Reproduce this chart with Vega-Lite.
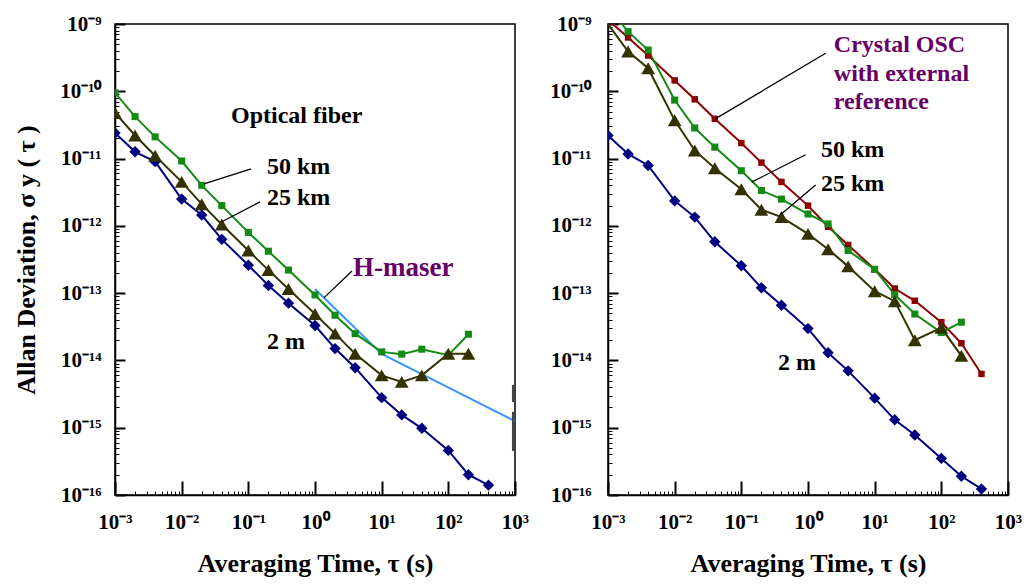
{
  "$schema": "https://vega.github.io/schema/vega-lite/v6.json",
  "background": "white",
  "padding": {"left": 12, "top": 12, "right": 5, "bottom": 5},
  "bounds": "flush",
  "spacing": 93,
  "config": {
    "view": {"stroke": "black", "strokeWidth": 1.5},
    "axis": {
      "grid": false,
      "domainColor": "black",
      "domainWidth": 1.5,
      "tickColor": "black",
      "tickWidth": 2,
      "labelFlush": false,
      "labelOverlap": false,
      "labelFont": "Liberation Serif",
      "labelFontWeight": "bold",
      "labelFontSize": 21,
      "labelColor": "black",
      "titleFont": "Liberation Serif",
      "titleFontWeight": "bold",
      "titleFontSize": 26,
      "titleColor": "black"
    }
  },
  "datasets": {
    "left": [
      {"tau": 0.001, "sigma": 2.4e-11, "series": "2 m"},
      {"tau": 0.002, "sigma": 1.26e-11, "series": "2 m"},
      {"tau": 0.004, "sigma": 9.0e-12, "series": "2 m"},
      {"tau": 0.01, "sigma": 2.5e-12, "series": "2 m"},
      {"tau": 0.02, "sigma": 1.45e-12, "series": "2 m"},
      {"tau": 0.04, "sigma": 6.3e-13, "series": "2 m"},
      {"tau": 0.1, "sigma": 2.6e-13, "series": "2 m"},
      {"tau": 0.2, "sigma": 1.3e-13, "series": "2 m"},
      {"tau": 0.4, "sigma": 7.1e-14, "series": "2 m"},
      {"tau": 1, "sigma": 3.3e-14, "series": "2 m"},
      {"tau": 2, "sigma": 1.5e-14, "series": "2 m"},
      {"tau": 4, "sigma": 7.8e-15, "series": "2 m"},
      {"tau": 10, "sigma": 2.8e-15, "series": "2 m"},
      {"tau": 20, "sigma": 1.55e-15, "series": "2 m"},
      {"tau": 40, "sigma": 9.8e-16, "series": "2 m"},
      {"tau": 100, "sigma": 4.6e-16, "series": "2 m"},
      {"tau": 200, "sigma": 2.0e-16, "series": "2 m"},
      {"tau": 400, "sigma": 1.4e-16, "series": "2 m"},
      {"tau": 0.001, "sigma": 9.5e-11, "series": "50 km"},
      {"tau": 0.002, "sigma": 4.2e-11, "series": "50 km"},
      {"tau": 0.004, "sigma": 2.1e-11, "series": "50 km"},
      {"tau": 0.01, "sigma": 9.2e-12, "series": "50 km"},
      {"tau": 0.02, "sigma": 4.0e-12, "series": "50 km"},
      {"tau": 0.04, "sigma": 2.0e-12, "series": "50 km"},
      {"tau": 0.1, "sigma": 8.0e-13, "series": "50 km"},
      {"tau": 0.2, "sigma": 4.2e-13, "series": "50 km"},
      {"tau": 0.4, "sigma": 2.2e-13, "series": "50 km"},
      {"tau": 1, "sigma": 9.4e-14, "series": "50 km"},
      {"tau": 2, "sigma": 4.7e-14, "series": "50 km"},
      {"tau": 4, "sigma": 2.5e-14, "series": "50 km"},
      {"tau": 10, "sigma": 1.34e-14, "series": "50 km"},
      {"tau": 20, "sigma": 1.24e-14, "series": "50 km"},
      {"tau": 40, "sigma": 1.47e-14, "series": "50 km"},
      {"tau": 100, "sigma": 1.2e-14, "series": "50 km"},
      {"tau": 200, "sigma": 2.45e-14, "series": "50 km"},
      {"tau": 0.001, "sigma": 4.8e-11, "series": "25 km"},
      {"tau": 0.002, "sigma": 2.2e-11, "series": "25 km"},
      {"tau": 0.004, "sigma": 1.1e-11, "series": "25 km"},
      {"tau": 0.01, "sigma": 4.5e-12, "series": "25 km"},
      {"tau": 0.02, "sigma": 2.1e-12, "series": "25 km"},
      {"tau": 0.04, "sigma": 1.05e-12, "series": "25 km"},
      {"tau": 0.1, "sigma": 4.3e-13, "series": "25 km"},
      {"tau": 0.2, "sigma": 2.2e-13, "series": "25 km"},
      {"tau": 0.4, "sigma": 1.15e-13, "series": "25 km"},
      {"tau": 1, "sigma": 4.9e-14, "series": "25 km"},
      {"tau": 2, "sigma": 2.5e-14, "series": "25 km"},
      {"tau": 4, "sigma": 1.26e-14, "series": "25 km"},
      {"tau": 10, "sigma": 6.0e-15, "series": "25 km"},
      {"tau": 20, "sigma": 4.8e-15, "series": "25 km"},
      {"tau": 40, "sigma": 6.0e-15, "series": "25 km"},
      {"tau": 100, "sigma": 1.26e-14, "series": "25 km"},
      {"tau": 200, "sigma": 1.26e-14, "series": "25 km"}
    ],
    "maser": [
      {"tau": 1, "sigma": 1.15e-13},
      {"tau": 10, "sigma": 1.25e-14},
      {"tau": 1000, "sigma": 1.25e-15}
    ],
    "edgeBars": [
      {"tau": 940, "sigma": 4.33e-15, "sigma2": 2.4e-15},
      {"tau": 940, "sigma": 1.72e-15, "sigma2": 4.52e-16}
    ],
    "right": [
      {"tau": 0.001, "sigma": 2.2e-11, "series": "2 m"},
      {"tau": 0.002, "sigma": 1.17e-11, "series": "2 m"},
      {"tau": 0.004, "sigma": 7.9e-12, "series": "2 m"},
      {"tau": 0.01, "sigma": 2.35e-12, "series": "2 m"},
      {"tau": 0.02, "sigma": 1.35e-12, "series": "2 m"},
      {"tau": 0.04, "sigma": 5.8e-13, "series": "2 m"},
      {"tau": 0.1, "sigma": 2.55e-13, "series": "2 m"},
      {"tau": 0.2, "sigma": 1.2e-13, "series": "2 m"},
      {"tau": 0.4, "sigma": 6.6e-14, "series": "2 m"},
      {"tau": 1, "sigma": 2.97e-14, "series": "2 m"},
      {"tau": 2, "sigma": 1.3e-14, "series": "2 m"},
      {"tau": 4, "sigma": 7.0e-15, "series": "2 m"},
      {"tau": 10, "sigma": 2.75e-15, "series": "2 m"},
      {"tau": 20, "sigma": 1.31e-15, "series": "2 m"},
      {"tau": 40, "sigma": 7.8e-16, "series": "2 m"},
      {"tau": 100, "sigma": 3.5e-16, "series": "2 m"},
      {"tau": 200, "sigma": 1.9e-16, "series": "2 m"},
      {"tau": 400, "sigma": 1.23e-16, "series": "2 m"},
      {"tau": 0.001, "sigma": 1.15e-9, "series": "Crystal"},
      {"tau": 0.002, "sigma": 6.3e-10, "series": "Crystal"},
      {"tau": 0.004, "sigma": 3.4e-10, "series": "Crystal"},
      {"tau": 0.01, "sigma": 1.45e-10, "series": "Crystal"},
      {"tau": 0.02, "sigma": 7.6e-11, "series": "Crystal"},
      {"tau": 0.04, "sigma": 3.9e-11, "series": "Crystal"},
      {"tau": 0.1, "sigma": 1.7e-11, "series": "Crystal"},
      {"tau": 0.2, "sigma": 8.7e-12, "series": "Crystal"},
      {"tau": 0.4, "sigma": 4.5e-12, "series": "Crystal"},
      {"tau": 1, "sigma": 2.0e-12, "series": "Crystal"},
      {"tau": 2, "sigma": 9.7e-13, "series": "Crystal"},
      {"tau": 4, "sigma": 5.2e-13, "series": "Crystal"},
      {"tau": 10, "sigma": 2.26e-13, "series": "Crystal"},
      {"tau": 20, "sigma": 1.17e-13, "series": "Crystal"},
      {"tau": 40, "sigma": 7.7e-14, "series": "Crystal"},
      {"tau": 100, "sigma": 3.7e-14, "series": "Crystal"},
      {"tau": 200, "sigma": 1.8e-14, "series": "Crystal"},
      {"tau": 400, "sigma": 6.3e-15, "series": "Crystal"},
      {"tau": 0.001, "sigma": 1.8e-9, "series": "50 km"},
      {"tau": 0.002, "sigma": 7.7e-10, "series": "50 km"},
      {"tau": 0.004, "sigma": 4.1e-10, "series": "50 km"},
      {"tau": 0.01, "sigma": 7.4e-11, "series": "50 km"},
      {"tau": 0.02, "sigma": 2.85e-11, "series": "50 km"},
      {"tau": 0.04, "sigma": 1.48e-11, "series": "50 km"},
      {"tau": 0.1, "sigma": 6.6e-12, "series": "50 km"},
      {"tau": 0.2, "sigma": 3.35e-12, "series": "50 km"},
      {"tau": 0.4, "sigma": 2.5e-12, "series": "50 km"},
      {"tau": 1, "sigma": 1.5e-12, "series": "50 km"},
      {"tau": 2, "sigma": 1.07e-12, "series": "50 km"},
      {"tau": 4, "sigma": 4.3e-13, "series": "50 km"},
      {"tau": 10, "sigma": 2.26e-13, "series": "50 km"},
      {"tau": 20, "sigma": 9.5e-14, "series": "50 km"},
      {"tau": 40, "sigma": 4.9e-14, "series": "50 km"},
      {"tau": 100, "sigma": 2.6e-14, "series": "50 km"},
      {"tau": 200, "sigma": 3.7e-14, "series": "50 km"},
      {"tau": 0.001, "sigma": 1.0e-9, "series": "25 km"},
      {"tau": 0.002, "sigma": 3.9e-10, "series": "25 km"},
      {"tau": 0.004, "sigma": 2.2e-10, "series": "25 km"},
      {"tau": 0.01, "sigma": 3.7e-11, "series": "25 km"},
      {"tau": 0.02, "sigma": 1.32e-11, "series": "25 km"},
      {"tau": 0.04, "sigma": 7.2e-12, "series": "25 km"},
      {"tau": 0.1, "sigma": 3.5e-12, "series": "25 km"},
      {"tau": 0.2, "sigma": 1.74e-12, "series": "25 km"},
      {"tau": 0.4, "sigma": 1.35e-12, "series": "25 km"},
      {"tau": 1, "sigma": 7.6e-13, "series": "25 km"},
      {"tau": 2, "sigma": 4.5e-13, "series": "25 km"},
      {"tau": 4, "sigma": 2.5e-13, "series": "25 km"},
      {"tau": 10, "sigma": 1.07e-13, "series": "25 km"},
      {"tau": 20, "sigma": 7.6e-14, "series": "25 km"},
      {"tau": 40, "sigma": 2.0e-14, "series": "25 km"},
      {"tau": 100, "sigma": 3.05e-14, "series": "25 km"},
      {"tau": 200, "sigma": 1.17e-14, "series": "25 km"}
    ],
    "leftLeaders": [
      {"tau": 0.11, "sigma": 7.0e-12, "tau2": 0.0216, "sigma2": 4.2e-12},
      {"tau": 0.15, "sigma": 2.27e-12, "tau2": 0.04, "sigma2": 1.15e-12},
      {"tau": 3.59, "sigma": 2.14e-13, "tau2": 1.36, "sigma2": 8.5e-14}
    ],
    "rightLeaders": [
      {"tau": 1.84, "sigma": 3.67e-10, "tau2": 0.0412, "sigma2": 3.93e-11},
      {"tau": 0.92, "sigma": 1.14e-11, "tau2": 0.1426, "sigma2": 4.46e-12},
      {"tau": 1.30, "sigma": 4.06e-12, "tau2": 0.375, "sigma2": 1.42e-12}
    ],
    "leftText": [
      {"tau": 0.0549, "sigma": 4.3e-11, "label": "Optical fiber", "color": "black", "fs": 24},
      {"tau": 0.1905, "sigma": 7.5e-12, "label": "50 km", "color": "black", "fs": 24},
      {"tau": 0.1905, "sigma": 2.6e-12, "label": "25 km", "color": "black", "fs": 24},
      {"tau": 3.72, "sigma": 2.37e-13, "label": "H-maser", "color": "#660066", "fs": 27},
      {"tau": 0.1905, "sigma": 1.88e-14, "label": "2 m", "color": "black", "fs": 24}
    ],
    "rightText": [
      {"tau": 2.44, "sigma": 4.94e-10, "label": "Crystal OSC", "color": "#660066", "fs": 24},
      {"tau": 2.44, "sigma": 1.82e-10, "label": "with external", "color": "#660066", "fs": 24},
      {"tau": 2.44, "sigma": 6.97e-11, "label": "reference", "color": "#660066", "fs": 24},
      {"tau": 1.56, "sigma": 1.32e-11, "label": "50 km", "color": "black", "fs": 24},
      {"tau": 1.56, "sigma": 4.2e-12, "label": "25 km", "color": "black", "fs": 24},
      {"tau": 0.354, "sigma": 9.2e-15, "label": "2 m", "color": "black", "fs": 24}
    ]
  },
  "hconcat": [
    {
      "width": 400,
      "height": 471,
      "resolve": {"axis": {"x": "independent", "y": "independent"}},
      "layer": [
        {
          "layer": [
            {
              "data": {"name": "maser"},
              "mark": {"type": "line", "color": "#3399ff", "strokeWidth": 2, "clip": true},
              "encoding": {
                "x": {"field": "tau", "type": "quantitative", "scale": {"type": "log", "domain": [0.001, 1000], "nice": false},
                  "axis": {"title": "Averaging Time,  τ (s)", "orient": "bottom", "values": [0.001, 0.01, 0.1, 1, 10, 100, 1000], "tickSize": -14, "labelPadding": 30, "titlePadding": 18,
                    "labelExpr": "'10' + {'-3':'⁻³','-2':'⁻²','-1':'⁻¹','0':'⁰','1':'¹','2':'²','3':'³'}['' + round(log(datum.value)/LN10)]"}},
                "y": {"field": "sigma", "type": "quantitative", "scale": {"type": "log", "domain": [1e-16, 1e-9], "nice": false},
                  "axis": {"title": "Allan Deviation, σ y ( τ )", "orient": "left", "values": [1e-16, 1e-15, 1e-14, 1e-13, 1e-12, 1e-11, 1e-10, 1e-9], "tickSize": -10, "labelPadding": 24, "titlePadding": 20,
                    "labelExpr": "'10' + {'-16':'⁻¹⁶','-15':'⁻¹⁵','-14':'⁻¹⁴','-13':'⁻¹³','-12':'⁻¹²','-11':'⁻¹¹','-10':'⁻¹⁰','-9':'⁻⁹'}['' + round(log(datum.value)/LN10)]"}}
              }
            },
            {
              "data": {"name": "edgeBars"},
              "mark": {"type": "rule", "color": "#444444", "strokeWidth": 2.5},
              "encoding": {
                "x": {"field": "tau", "type": "quantitative"},
                "y": {"field": "sigma", "type": "quantitative"},
                "y2": {"field": "sigma2"}
              }
            },
            {
              "data": {"name": "left"},
              "mark": {"type": "line", "strokeWidth": 2, "clip": true},
              "encoding": {
                "x": {"field": "tau", "type": "quantitative"},
                "y": {"field": "sigma", "type": "quantitative"},
                "color": {"field": "series", "type": "nominal", "scale": {"domain": ["2 m", "50 km", "25 km", "Crystal"], "range": ["#000080", "#138a13", "#333300", "#8b0000"]}, "legend": null}
              }
            },
            {
              "data": {"name": "left"},
              "mark": {"type": "point", "filled": true, "opacity": 1, "clip": true},
              "encoding": {
                "x": {"field": "tau", "type": "quantitative"},
                "y": {"field": "sigma", "type": "quantitative"},
                "color": {"field": "series", "type": "nominal", "legend": null},
                "shape": {"field": "series", "type": "nominal", "scale": {"domain": ["2 m", "50 km", "25 km", "Crystal"], "range": ["diamond", "square", "triangle-up", "square"]}, "legend": null},
                "size": {"field": "series", "type": "nominal", "scale": {"type": "ordinal", "domain": ["2 m", "50 km", "25 km", "Crystal"], "range": [130, 50, 190, 42]}, "legend": null}
              }
            },
            {
              "data": {"name": "leftLeaders"},
              "mark": {"type": "rule", "color": "black", "strokeWidth": 1.3},
              "encoding": {
                "x": {"field": "tau", "type": "quantitative"},
                "y": {"field": "sigma", "type": "quantitative"},
                "x2": {"field": "tau2"},
                "y2": {"field": "sigma2"}
              }
            },
            {
              "data": {"name": "leftText"},
              "mark": {"type": "text", "align": "left", "baseline": "middle", "font": "Liberation Serif", "fontWeight": "bold"},
              "encoding": {
                "x": {"field": "tau", "type": "quantitative"},
                "y": {"field": "sigma", "type": "quantitative"},
                "text": {"field": "label"},
                "size": {"field": "fs", "type": "quantitative", "scale": null},
                "color": {"field": "color", "type": "nominal", "scale": null}
              }
            }
          ]
        },
        {
          "data": {"name": "maser"},
          "mark": {"type": "point", "opacity": 0},
          "encoding": {
            "x": {"field": "tau", "type": "quantitative",
              "axis": {"orient": "bottom", "title": null, "labels": false, "domain": false, "tickSize": -4, "tickWidth": 1,
                "values": [0.002,0.003,0.004,0.005,0.006,0.007,0.008,0.009,0.02,0.03,0.04,0.05,0.06,0.07,0.08,0.09,0.2,0.3,0.4,0.5,0.6,0.7,0.8,0.9,2,3,4,5,6,7,8,9,20,30,40,50,60,70,80,90,200,300,400,500,600,700,800,900]}},
            "y": {"field": "sigma", "type": "quantitative",
              "axis": {"orient": "left", "title": null, "labels": false, "domain": false, "tickSize": -4, "tickWidth": 1,
                "values": [2e-16,3e-16,4e-16,5e-16,6e-16,7e-16,8e-16,9e-16,2e-15,3e-15,4e-15,5e-15,6e-15,7e-15,8e-15,9e-15,2e-14,3e-14,4e-14,5e-14,6e-14,7e-14,8e-14,9e-14,2e-13,3e-13,4e-13,5e-13,6e-13,7e-13,8e-13,9e-13,2e-12,3e-12,4e-12,5e-12,6e-12,7e-12,8e-12,9e-12,2e-11,3e-11,4e-11,5e-11,6e-11,7e-11,8e-11,9e-11,2e-10,3e-10,4e-10,5e-10,6e-10,7e-10,8e-10,9e-10]}}
          }
        }
      ]
    },
    {
      "width": 400,
      "height": 471,
      "resolve": {"axis": {"x": "independent", "y": "independent"}},
      "layer": [
        {
          "layer": [
            {
              "data": {"name": "right"},
              "mark": {"type": "line", "strokeWidth": 2, "clip": true},
              "encoding": {
                "x": {"field": "tau", "type": "quantitative", "scale": {"type": "log", "domain": [0.001, 1000], "nice": false},
                  "axis": {"title": "Averaging Time,  τ (s)", "orient": "bottom", "values": [0.001, 0.01, 0.1, 1, 10, 100, 1000], "tickSize": -14, "labelPadding": 30, "titlePadding": 18,
                    "labelExpr": "'10' + {'-3':'⁻³','-2':'⁻²','-1':'⁻¹','0':'⁰','1':'¹','2':'²','3':'³'}['' + round(log(datum.value)/LN10)]"}},
                "y": {"field": "sigma", "type": "quantitative", "scale": {"type": "log", "domain": [1e-16, 1e-9], "nice": false},
                  "axis": {"title": null, "orient": "left", "values": [1e-16, 1e-15, 1e-14, 1e-13, 1e-12, 1e-11, 1e-10, 1e-9], "tickSize": -10, "labelPadding": 27,
                    "labelExpr": "'10' + {'-16':'⁻¹⁶','-15':'⁻¹⁵','-14':'⁻¹⁴','-13':'⁻¹³','-12':'⁻¹²','-11':'⁻¹¹','-10':'⁻¹⁰','-9':'⁻⁹'}['' + round(log(datum.value)/LN10)]"}},
                "color": {"field": "series", "type": "nominal", "scale": {"domain": ["2 m", "50 km", "25 km", "Crystal"], "range": ["#000080", "#138a13", "#333300", "#8b0000"]}, "legend": null}
              }
            },
            {
              "data": {"name": "right"},
              "transform": [{"filter": "datum.sigma < 9.9e-10"}],
              "mark": {"type": "point", "filled": true, "opacity": 1, "clip": true},
              "encoding": {
                "x": {"field": "tau", "type": "quantitative"},
                "y": {"field": "sigma", "type": "quantitative"},
                "color": {"field": "series", "type": "nominal", "legend": null},
                "shape": {"field": "series", "type": "nominal", "scale": {"domain": ["2 m", "50 km", "25 km", "Crystal"], "range": ["diamond", "square", "triangle-up", "square"]}, "legend": null},
                "size": {"field": "series", "type": "nominal", "scale": {"type": "ordinal", "domain": ["2 m", "50 km", "25 km", "Crystal"], "range": [130, 55, 190, 42]}, "legend": null}
              }
            },
            {
              "data": {"name": "rightLeaders"},
              "mark": {"type": "rule", "color": "black", "strokeWidth": 1.3},
              "encoding": {
                "x": {"field": "tau", "type": "quantitative"},
                "y": {"field": "sigma", "type": "quantitative"},
                "x2": {"field": "tau2"},
                "y2": {"field": "sigma2"}
              }
            },
            {
              "data": {"name": "rightText"},
              "mark": {"type": "text", "align": "left", "baseline": "middle", "font": "Liberation Serif", "fontWeight": "bold"},
              "encoding": {
                "x": {"field": "tau", "type": "quantitative"},
                "y": {"field": "sigma", "type": "quantitative"},
                "text": {"field": "label"},
                "size": {"field": "fs", "type": "quantitative", "scale": null},
                "color": {"field": "color", "type": "nominal", "scale": null}
              }
            }
          ]
        },
        {
          "data": {"name": "maser"},
          "mark": {"type": "point", "opacity": 0},
          "encoding": {
            "x": {"field": "tau", "type": "quantitative",
              "axis": {"orient": "bottom", "title": null, "labels": false, "domain": false, "tickSize": -4, "tickWidth": 1,
                "values": [0.002,0.003,0.004,0.005,0.006,0.007,0.008,0.009,0.02,0.03,0.04,0.05,0.06,0.07,0.08,0.09,0.2,0.3,0.4,0.5,0.6,0.7,0.8,0.9,2,3,4,5,6,7,8,9,20,30,40,50,60,70,80,90,200,300,400,500,600,700,800,900]}},
            "y": {"field": "sigma", "type": "quantitative",
              "axis": {"orient": "left", "title": null, "labels": false, "domain": false, "tickSize": -4, "tickWidth": 1,
                "values": [2e-16,3e-16,4e-16,5e-16,6e-16,7e-16,8e-16,9e-16,2e-15,3e-15,4e-15,5e-15,6e-15,7e-15,8e-15,9e-15,2e-14,3e-14,4e-14,5e-14,6e-14,7e-14,8e-14,9e-14,2e-13,3e-13,4e-13,5e-13,6e-13,7e-13,8e-13,9e-13,2e-12,3e-12,4e-12,5e-12,6e-12,7e-12,8e-12,9e-12,2e-11,3e-11,4e-11,5e-11,6e-11,7e-11,8e-11,9e-11,2e-10,3e-10,4e-10,5e-10,6e-10,7e-10,8e-10,9e-10]}}
          }
        }
      ]
    }
  ]
}
